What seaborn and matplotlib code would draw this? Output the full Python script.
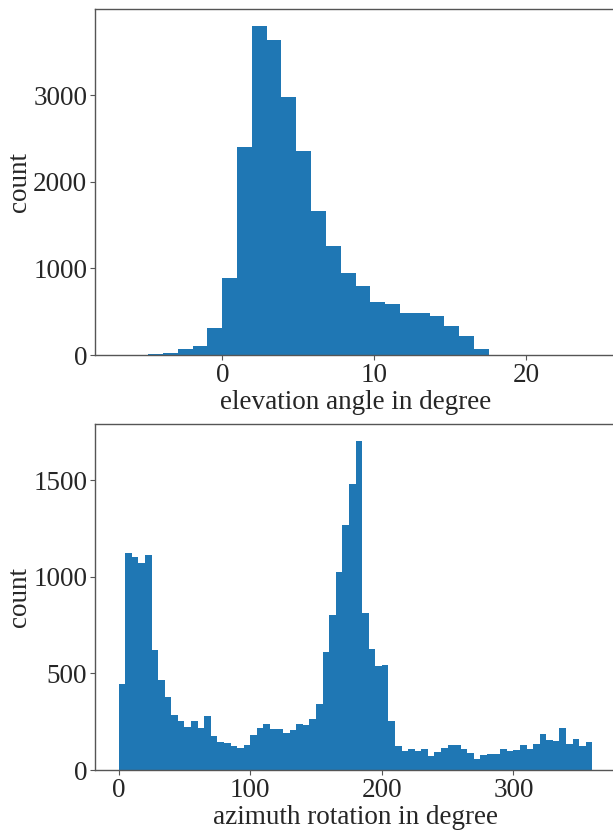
import numpy as np
import pandas as pd
import matplotlib
matplotlib.use("Agg")
import matplotlib.pyplot as plt
import seaborn as sns

# ---- data ----
# elevation angle: 32 bins spanning the data range
elev_range = (-6.82, 24.34)
elev_counts = [1, 2, 8, 20, 70, 105, 312, 888, 2404, 3800, 3638, 2973, 2354,
               1662, 1254, 950, 796, 608, 588, 481, 485, 454, 331, 219, 65,
               0, 0, 0, 0, 0, 0, 1]

# azimuth rotation: 72 bins of 5 degrees from 0 to 360
azim_range = (0, 360)
azim_counts = [447, 1122, 1103, 1074, 1113, 620, 468, 378, 285, 254, 224, 254,
               216, 280, 178, 147, 142, 123, 112, 129, 181, 217, 236, 212,
               212, 193, 209, 236, 231, 264, 342, 613, 801, 1027, 1270, 1483,
               1705, 815, 625, 538, 545, 255, 123, 98, 110, 98, 110, 73,
               95, 116, 128, 131, 109, 90, 59, 76, 81, 81, 110, 98,
               105, 128, 107, 135, 185, 157, 150, 216, 135, 162, 123, 143]

xlabels = ["elevation angle in degree", "azimuth rotation in degree"]
ylabel = "count"

sns.set_theme(style="ticks")
plt.rcParams["font.family"] = ["Liberation Serif", "DejaVu Serif"]

fig = plt.figure(figsize=(6.13, 8.30), dpi=100)
W, H = 613, 830
ax1 = fig.add_axes([95 / W, 1 - 355 / H, (616 - 95) / W, (355 - 9.3) / H])
ax2 = fig.add_axes([95 / W, 1 - 770 / H, (616 - 95) / W, (770 - 424.3) / H])

FS = 19.5

def draw(ax, rng, counts, xlabel):
    n = len(counts)
    edges = np.linspace(rng[0], rng[1], n + 1)
    centers = (edges[:-1] + edges[1:]) / 2
    df = pd.DataFrame({"x": centers, "w": counts})
    sns.histplot(data=df, x="x", weights="w", bins=n, binrange=rng, ax=ax,
                 color="#1f77b4", alpha=1.0, linewidth=0)
    ax.set_xlabel(xlabel, fontsize=FS, labelpad=2)
    ax.set_ylabel(ylabel, fontsize=FS, labelpad=1)
    ax.tick_params(labelsize=FS, length=3.5, width=0.8, color="#555555",
                   pad=2)
    for s in ax.spines.values():
        s.set_color("#555555")
        s.set_linewidth(1.0)
    ax.margins(x=0.05, y=0.05)

draw(ax1, elev_range, elev_counts, xlabels[0])
draw(ax2, azim_range, azim_counts, xlabels[1])
ax1.set_xticks([0, 10, 20])
ax1.set_yticks([0, 1000, 2000, 3000])
ax2.set_xticks([0, 100, 200, 300])
ax2.set_yticks([0, 500, 1000, 1500])

fig.savefig("out.png", dpi=100)
